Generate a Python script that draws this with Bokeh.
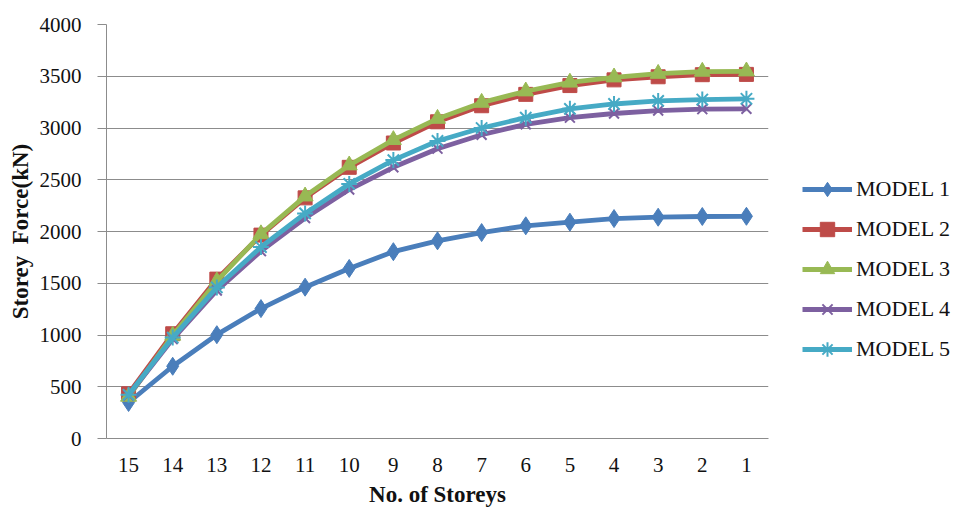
from bokeh.plotting import figure
from bokeh.models import FactorRange, Range1d, Legend, LegendItem, SingleIntervalTicker
from bokeh.embed import file_html
from bokeh.resources import INLINE

storeys = ["15", "14", "13", "12", "11", "10", "9", "8", "7", "6", "5", "4", "3", "2", "1"]
model1 = [348, 698, 1003, 1255, 1462, 1643, 1805, 1910, 1990, 2055, 2090, 2125, 2138, 2145, 2147]
model2 = [432, 1012, 1540, 1965, 2325, 2620, 2855, 3060, 3215, 3325, 3410, 3465, 3495, 3515, 3518]
model3 = [405, 995, 1520, 1975, 2340, 2640, 2885, 3090, 3245, 3355, 3440, 3490, 3525, 3545, 3548]
model4 = [418, 960, 1430, 1810, 2130, 2405, 2620, 2800, 2935, 3035, 3100, 3140, 3168, 3182, 3185]
model5 = [422, 975, 1460, 1850, 2175, 2460, 2690, 2875, 3000, 3100, 3185, 3232, 3262, 3275, 3282]

names = ["MODEL 1", "MODEL 2", "MODEL 3", "MODEL 4", "MODEL 5"]
series = [model1, model2, model3, model4, model5]
colors = ["#4A7EBB", "#BE4B48", "#98B954", "#7D60A0", "#46AAC5"]
markers = ["diamond", "square", "triangle", "x", "asterisk"]
sizes = [18, 14, 16, 14, 16]

FONT = "Liberation Serif"

p = figure(x_range=FactorRange(*storeys, range_padding=0), y_range=Range1d(0, 4000),
           frame_width=662, frame_height=414,
           min_border_left=106, min_border_right=20, min_border_top=24, min_border_bottom=68,
           output_backend="svg", toolbar_location=None, background_fill_color="white",
           border_fill_color="white", outline_line_color=None)

items = []
for name, vals, c, m, s in zip(names, series, colors, markers, sizes):
    r1 = p.line(storeys, vals, line_color=c, line_width=4.8)
    if m in ("x", "asterisk"):
        r2 = p.scatter(storeys, vals, marker=m, size=s, line_color=c, line_width=2, fill_color=c)
    else:
        r2 = p.scatter(storeys, vals, marker=m, size=s, line_color=c, fill_color=c)
    items.append(LegendItem(label=name, renderers=[r1, r2]))

legend = Legend(items=items, location=(34, 71), glyph_width=50, glyph_height=36,
                spacing=4, padding=0, margin=0, label_standoff=4,
                label_text_font=FONT, label_text_font_size="22px", label_text_color="#111111",
                border_line_color=None, background_fill_alpha=0)
p.add_layout(legend, "right")

p.xgrid.grid_line_color = None
p.ygrid.grid_line_color = "#8C8C8C"
p.ygrid.grid_line_width = 1.2

p.yaxis.ticker = SingleIntervalTicker(interval=500)
p.yaxis.minor_tick_line_color = None
p.yaxis.major_tick_out = 9
p.yaxis.major_tick_in = 0
p.yaxis.major_tick_line_color = "#8C8C8C"
p.yaxis.axis_line_color = "#8C8C8C"
p.yaxis.major_label_standoff = 16
p.yaxis.major_label_text_font = FONT
p.yaxis.major_label_text_font_size = "21px"
p.yaxis.major_label_text_color = "#111111"
p.yaxis.axis_label = "Storey\u00a0 Force(kN)"
p.yaxis.axis_label_text_font = FONT
p.yaxis.axis_label_text_font_size = "23px"
p.yaxis.axis_label_text_font_style = "bold"
p.yaxis.axis_label_text_color = "#111111"
p.yaxis.axis_label_standoff = 4

p.xaxis.major_tick_line_color = None
p.xaxis.major_tick_out = 0
p.xaxis.axis_line_color = "#8C8C8C"
p.xaxis.major_label_standoff = 19
p.xaxis.major_label_text_font = FONT
p.xaxis.major_label_text_font_size = "21px"
p.xaxis.major_label_text_color = "#111111"
p.xaxis.axis_label = "No. of Storeys"
p.xaxis.axis_label_text_font = FONT
p.xaxis.axis_label_text_font_size = "23px"
p.xaxis.axis_label_text_font_style = "bold"
p.xaxis.axis_label_text_color = "#111111"
p.xaxis.axis_label_standoff = 7

open("out.html", "w").write(file_html(p, INLINE))
